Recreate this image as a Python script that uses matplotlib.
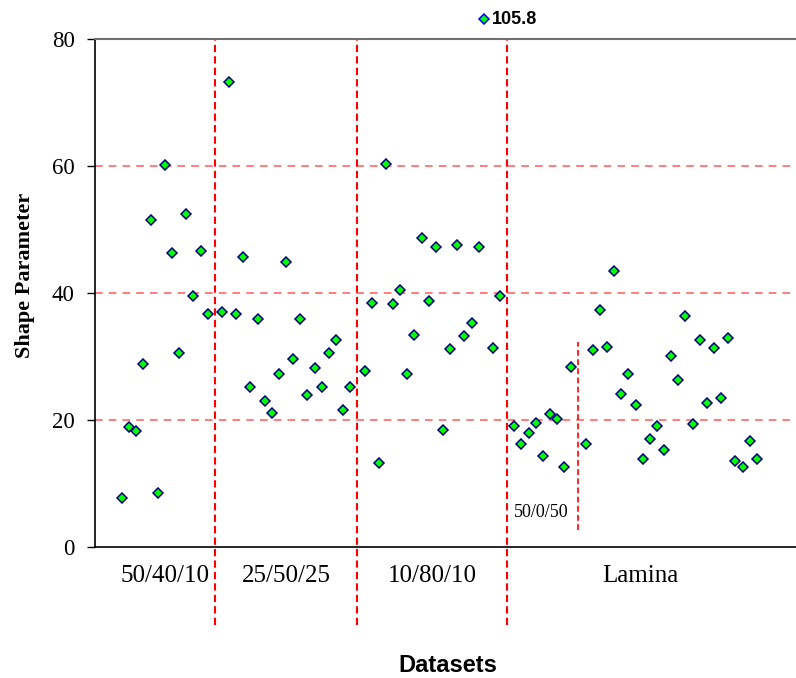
import numpy as np
import matplotlib
matplotlib.use("Agg")
import matplotlib.pyplot as plt

# --- DATA ---
group_names = ["50/40/10", "25/50/25", "10/80/10", "Lamina"]
sub_name = "50/0/50"

v_504010 = [7.7, 18.9, 18.3, 28.8, 51.5, 8.5, 60.2, 46.3, 30.6, 52.4, 39.5, 46.6, 36.7]
v_255025 = [37.0, 73.2, 36.7, 45.7, 25.2, 35.9, 23.0, 21.1, 27.2, 44.9, 29.6, 35.9,
            23.9, 28.2, 25.2, 30.6, 32.6, 21.6, 25.2]
v_108010 = [27.7, 38.4, 13.2, 60.3, 38.3, 40.5, 27.2, 33.4, 48.7, 38.7, 47.2, 18.4,
            31.2, 47.6, 33.2, 35.3, 47.2, 105.8, 31.3, 39.5]
v_50050 = [19.1, 16.2, 18.0, 19.5, 14.3, 20.9, 20.2, 12.6, 28.3]
v_lamina = [16.2, 31.0, 37.3, 31.5, 43.5, 24.1, 27.2, 22.4, 13.9, 17.0, 19.1, 15.3,
            30.1, 26.3, 36.4, 19.4, 32.6, 22.7, 31.3, 23.5, 32.9, 13.5, 12.6, 16.7, 13.9]

y_max = 80
y_ticks = [0, 20, 40, 60, 80]

# --- POSITIONS: one empty slot between each block ---
blocks = [v_504010, v_255025, v_108010, v_50050, v_lamina]
xs, ys, block_pos, gaps = [], [], [], []
pos = 1
for i, b in enumerate(blocks):
    p = list(range(pos, pos + len(b)))
    xs += p
    ys += b
    block_pos.append(p)
    pos += len(b)
    if i < len(blocks) - 1:
        gaps.append(pos)
        pos += 1
xs = np.array(xs)
ys = np.array(ys)

serif = "Liberation Serif"
sans = "Liberation Sans"

fig = plt.figure(figsize=(7.96, 6.78), dpi=100)
ax = fig.add_axes([0.1193, 0.1932, 0.8807, 0.7493])
ax.set_xlim(-2.8, 95.5)
ax.set_ylim(0, y_max)

# horizontal grid
for yv in y_ticks[1:]:
    ax.axhline(yv, color="#ff5a5a", lw=1.1, ls=(0, (5, 4)), zorder=1)

# block dividers (full ones run below the axis)
for g in gaps[:3]:
    ax.plot([g, g], [-12.3, y_max], color="#ff0000", lw=1.5, ls=(0, (3.5, 2)),
            clip_on=False, zorder=2)
ax.plot([gaps[3], gaps[3]], [2.7, 32.3], color="#ff0000", lw=1.2, ls=(0, (3.5, 2)), zorder=2)

# points
ax.plot(xs, ys, ls="none", marker="D", ms=5.4, mfc="#00ff00", mec="#000080", mew=1.1, zorder=3)

# out-of-range point drawn just above the frame
big = ys > y_max
for xv, yv in zip(xs[big], ys[big]):
    ax.plot([xv - 0.2], [83.1], ls="none", marker="D", ms=5.0, mfc="#00ff00", mec="#0000ff",
            mew=1.1, clip_on=False, zorder=4)
    ax.text(xv + 0.9, 83.1, f"{yv:.1f}", fontsize=13, fontweight="bold", family=sans,
            va="center", ha="left")

# category labels under the axis
label_pos = [np.mean(block_pos[0]), np.mean(block_pos[1]), np.mean(block_pos[2]),
             np.mean(block_pos[3] + block_pos[4]) + 0.4]
for name, xp in zip(group_names, label_pos):
    ax.text(xp, -4.5, name, fontsize=18, family=serif, ha="center", va="center")
ax.text(np.mean(block_pos[3]) - 0.2, 5.5, sub_name, fontsize=13, family=serif,
        ha="center", va="center")

# axes styling
ax.set_yticks(y_ticks)
ax.set_yticklabels([str(t) for t in y_ticks], family=serif, fontsize=16.5)
ax.tick_params(axis="y", direction="out", length=5.5, width=1, pad=9)
ax.set_xticks([])
ax.spines["right"].set_visible(False)
ax.spines["top"].set_color("#707070")
ax.spines["top"].set_linewidth(1.5)
ax.spines["left"].set_linewidth(1.2)
ax.spines["bottom"].set_linewidth(1.2)

ax.set_ylabel("Shape Parameter", family=serif, fontsize=16, fontweight="bold")
ax.yaxis.set_label_coords(-0.085, 0.535)
fig.text(448 / 796, 1 - 665 / 678, "Datasets", family=sans, fontsize=17, fontweight="bold",
         ha="center", va="center")

fig.savefig("out.png", dpi=100)
